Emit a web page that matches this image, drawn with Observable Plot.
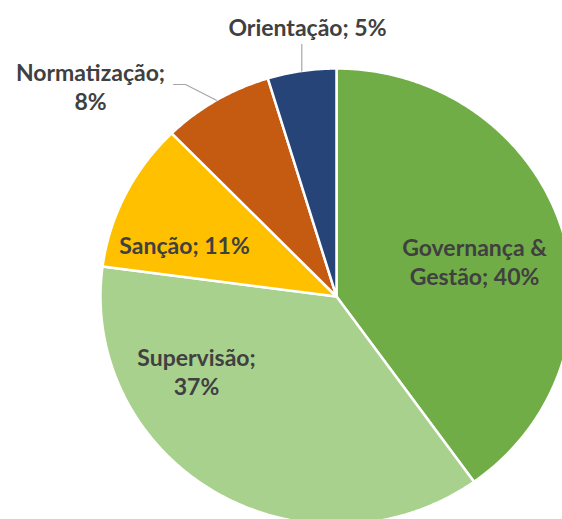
<!DOCTYPE html>
<html><head><meta charset="utf-8">
<script src="https://cdn.jsdelivr.net/npm/d3@7"></script>
<script src="https://cdn.jsdelivr.net/npm/@observablehq/plot@0.6"></script>
<style>body{margin:0;background:#fff}</style></head>
<body><div id="chart"></div>
<script>
// Data (shares in %; labels show rounded values)
const categories = ["Governança & Gestão", "Supervisão", "Sanção", "Normatização", "Orientação"];
const values = [40.1, 37.0, 10.6, 7.6, 4.7];
const colors = ["#70AD47", "#A9D18E", "#FFC000", "#C55A11", "#264478"];
const labelTexts = ["Governança &\nGestão; 40%", "Supervisão;\n37%", "Sanção; 11%", "Normatização;\n8%", "Orientação; 5%"];

// Layout (pixels)
const W = 562, H = 519, cx = 336, cy = 296, RX = 236, RY = 228;
const labelPx = [[474, 261], [196, 371], [184, 245], [90, 86], [307, 27]];
const X = px => (px - cx) / RX;
const Y = py => (cy - py) / RY;

const pie = d3.pie().sort(null).value(d => d)(values);
const slicePts = [];
pie.forEach((p, i) => {
  const name = categories[i];
  const n = Math.max(2, Math.ceil((p.endAngle - p.startAngle) / (Math.PI / 360)));
  slicePts.push({name, x: 0, y: 0});
  for (let k = 0; k <= n; k++) {
    const a = p.startAngle + (p.endAngle - p.startAngle) * k / n;
    slicePts.push({name, x: Math.sin(a), y: Math.cos(a)});
  }
});

const labels = categories.map((c, i) => ({name: c, text: labelTexts[i], x: X(labelPx[i][0]), y: Y(labelPx[i][1])}));

// leader lines from slice mid-angle on rim to label
const mid = i => (pie[i].startAngle + pie[i].endAngle) / 2;
const leaders = [
  {id: "o", x: Math.sin(mid(4)), y: Math.cos(mid(4))},
  {id: "o", x: Math.sin(mid(4)), y: Y(44)},
  {id: "n", x: Math.sin(mid(3)), y: Math.cos(mid(3))},
  {id: "n", x: X(185), y: Y(84)},
  {id: "n", x: X(173), y: Y(84)}
];

const chart = Plot.plot({
  width: W, height: H, margin: 0,
  x: {domain: [X(0), X(W)], axis: null},
  y: {domain: [Y(H), Y(0)], axis: null},
  color: {domain: categories, range: colors},
  style: {background: "#fff"},
  marks: [
    Plot.line(slicePts, {x: "x", y: "y", z: "name", fill: "name", stroke: "white", strokeWidth: 2.5, strokeLinejoin: "round", curve: "linear-closed", clip: true}),
    Plot.line(leaders, {x: "x", y: "y", z: "id", stroke: "#a6a6a6", strokeWidth: 1.2}),
    Plot.text(labels, {x: "x", y: "y", text: "text", fill: "#404040", fontWeight: "bold", fontSize: 23, fontFamily: "Lato", lineHeight: 1.22, style: "letter-spacing:0.3px"})
  ]
});
document.getElementById("chart").append(chart);
</script>
</body></html>
